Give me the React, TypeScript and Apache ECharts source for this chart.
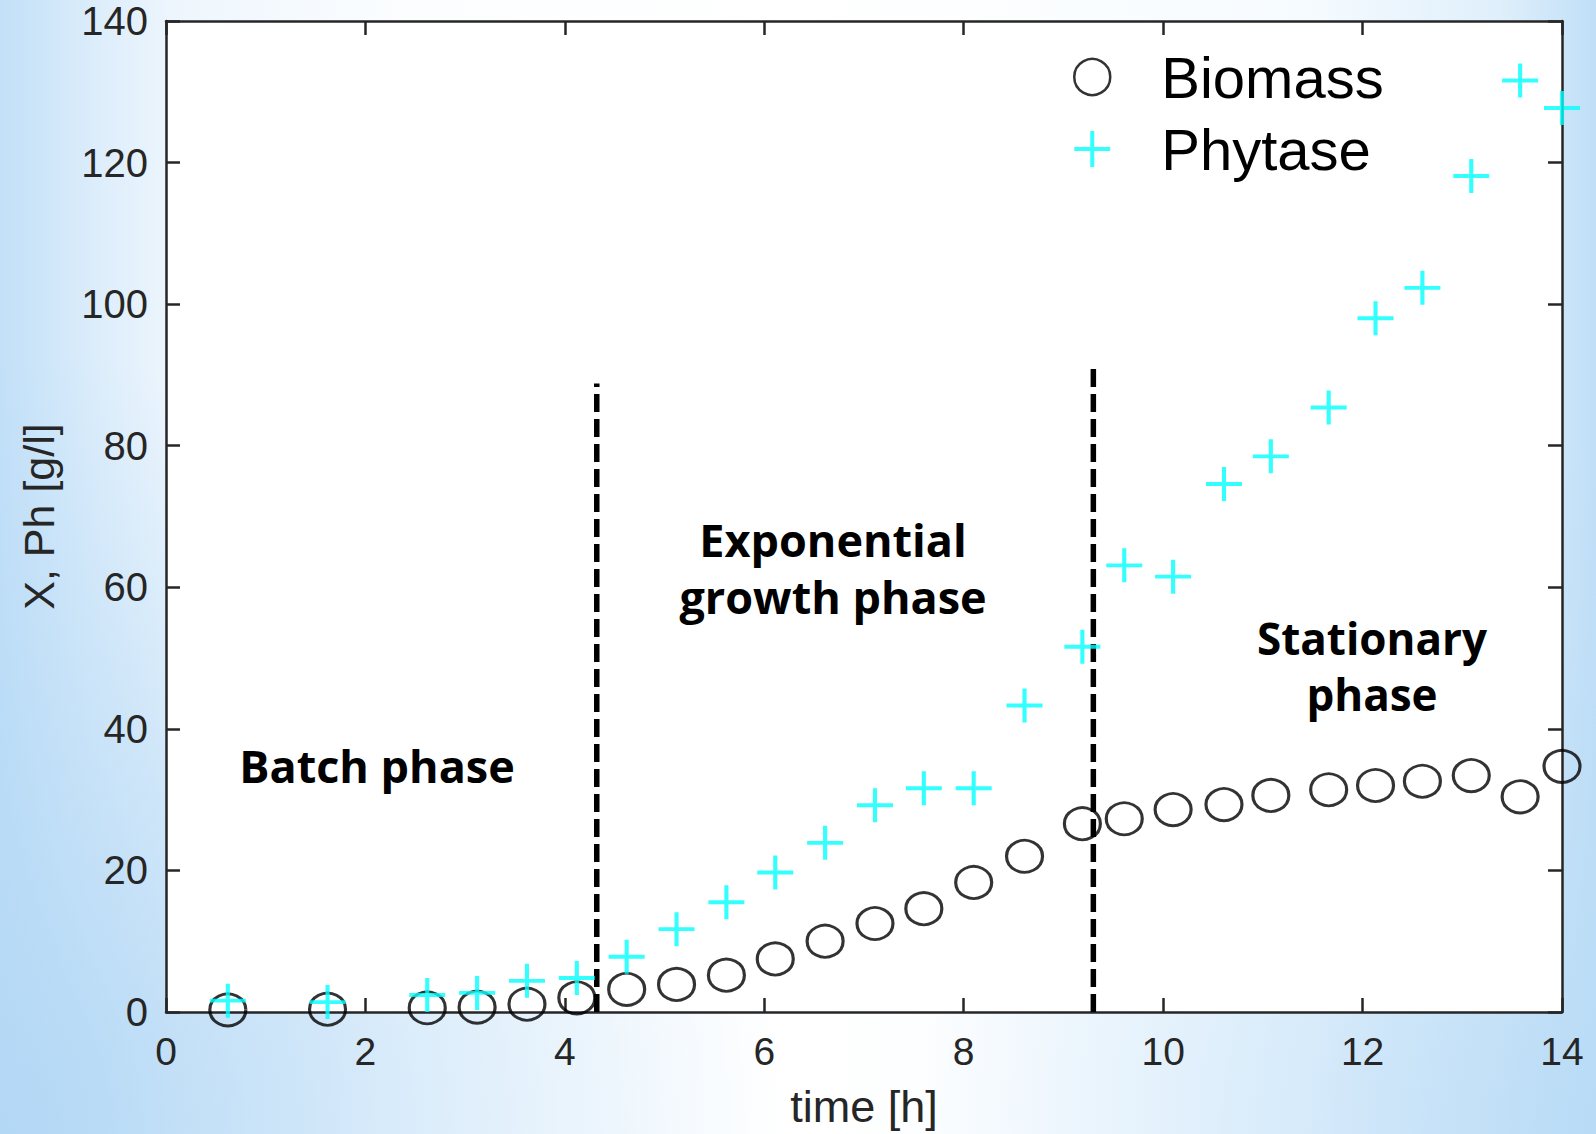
import React, { useEffect, useRef } from "react";
import * as echarts from "echarts";

const times = [0.62, 1.62, 2.62, 3.12, 3.62, 4.12, 4.62, 5.12, 5.62, 6.11, 6.61, 7.11, 7.6, 8.1, 8.61, 9.19, 9.61, 10.1, 10.61, 11.08, 11.66, 12.13, 12.6, 13.09, 13.58, 14.0];
const biomass = [0.3, 0.4, 0.6, 0.7, 1.1, 2.0, 3.2, 3.9, 5.2, 7.5, 10.0, 12.5, 14.6, 18.3, 22.0, 26.6, 27.3, 28.6, 29.3, 30.6, 31.4, 32.0, 32.6, 33.4, 30.4, 34.7];
const phytase = [1.6, 1.4, 2.4, 2.7, 4.4, 4.8, 7.8, 11.7, 15.5, 19.7, 23.9, 29.2, 31.6, 31.6, 43.3, 51.6, 63.1, 61.5, 74.6, 78.5, 85.4, 98.0, 102.3, 118.1, 131.6, 127.7];
const phaseBoundaries = [
  { x: 4.32, top: 88.8 },
  { x: 9.3, top: 91.6 },
];
const xTicks = { min: 0, max: 14, interval: 2 };
const yTicks = { min: 0, max: 140, interval: 20 };
const phaseLabels = ["Batch phase", "Exponential\ngrowth phase", "Stationary\nphase"];

const AXIS_COLOR = "#262626";
const FONT = '"Liberation Sans", Arial, sans-serif';

export default function App() {
  const ref = useRef<HTMLDivElement>(null);
  useEffect(() => {
    if (!ref.current) return;
    const chart = echarts.init(ref.current, null, { renderer: "svg" });
    const axisCommon = {
      axisLine: { show: true, onZero: false, lineStyle: { color: AXIS_COLOR, width: 2.5 } },
      axisTick: { show: true, inside: true, length: 14, lineStyle: { color: AXIS_COLOR, width: 2.5 } },
      splitLine: { show: false },
    };
    const pts = (ys: number[]) => times.map((t, i) => [t, ys[i]]);
    const phaseFont = 'bold 45px "Open Sans"';
    const option: any = {
      animation: false,
      backgroundColor: "transparent",
      grid: { left: 166, right: 34, top: 21, bottom: 121, show: true, backgroundColor: "#ffffff", borderWidth: 0 },
      xAxis: [
        {
          type: "value", position: "bottom", ...xTicks, ...axisCommon,
          axisLabel: { color: AXIS_COLOR, fontSize: 39, fontFamily: FONT, margin: 20 },
          name: "time [h]", nameLocation: "middle", nameGap: 72,
          nameTextStyle: { color: AXIS_COLOR, fontSize: 45, fontFamily: FONT },
        },
        { type: "value", position: "top", ...xTicks, ...axisCommon, axisLabel: { show: false } },
      ],
      yAxis: [
        {
          type: "value", position: "left", ...yTicks, ...axisCommon,
          axisLabel: { color: AXIS_COLOR, fontSize: 40, lineHeight: 34, fontFamily: FONT, margin: 18 },
          name: "X, Ph [g/l]", nameLocation: "middle", nameGap: 106,
          nameTextStyle: { color: AXIS_COLOR, fontSize: 43, fontFamily: FONT },
        },
        { type: "value", position: "right", ...yTicks, ...axisCommon, axisLabel: { show: false } },
      ],
      legend: {
        data: [
          { name: "Biomass", itemStyle: { color: "rgba(0,0,0,0)", borderColor: "#000", borderWidth: 2.5 } },
          {
            name: "Phytase",
            icon: "path://M0,16H36V20H0Z M16,0H20V36H16Z",
            itemStyle: { color: "#00ffff", borderWidth: 0 },
          },
        ],
        orient: "vertical",
        left: 1068,
        top: 43,
        itemWidth: 36,
        itemHeight: 36,
        itemGap: 14,
        textStyle: { color: "#000", fontSize: 58, fontFamily: FONT, lineHeight: 58, padding: [0, 0, 0, 46] },
      },
      series: [
        {
          name: "Biomass",
          type: "scatter",
          symbol: "circle",
          symbolSize: [36, 32],
          itemStyle: { color: "rgba(0,0,0,0)", borderColor: "#000", borderWidth: 3 },
          data: pts(biomass),
          z: 3,
        },
        {
          name: "Phytase",
          type: "scatter",
          symbol: "path://M0,18H36M18,0V36",
          symbolSize: [36, 34],
          itemStyle: { color: "rgba(0,0,0,0)", borderColor: "#00ffff", borderWidth: 4 },
          data: pts(phytase),
          z: 4,
        },
        ...phaseBoundaries.map((b, i) => ({
          name: "boundary" + i,
          type: "line",
          data: [[b.x, 0], [b.x, b.top]],
          symbol: "none",
          silent: true,
          lineStyle: { color: "#000", width: 5.5, type: [18, 7] },
          z: 2,
        })),
      ],
      graphic: [
        { type: "text", x: 377, y: 765, style: { text: phaseLabels[0], font: phaseFont, fill: "#000", align: "center", verticalAlign: "middle" } },
        { type: "text", x: 833, y: 568, style: { text: phaseLabels[1], font: phaseFont, lineHeight: 57, fill: "#000", align: "center", verticalAlign: "middle" } },
        { type: "text", x: 1372, y: 666, style: { text: phaseLabels[2], font: 'bold 44px "Open Sans"', lineHeight: 56, fill: "#000", align: "center", verticalAlign: "middle" } },
      ],
    };
    chart.setOption(option);
    return () => chart.dispose();
  }, []);
  return (
    <div
      style={{
        position: "fixed",
        left: 0,
        top: 0,
        width: 1596,
        height: 1134,
        background:
          "radial-gradient(circle at 0% 100%, rgba(178,215,245,0.95) 0%, rgba(178,215,245,0) 40%), " +
          "radial-gradient(circle at 100% 100%, rgba(185,219,246,0.9) 0%, rgba(185,219,246,0) 35%), " +
          "linear-gradient(90deg, #c2e0f8 0%, #dcedfb 6%, #eef6fd 11%, #fbfdff 25%, #ffffff 50%, #f6fbff 82%, #dfeffb 94%, #c0dff7 100%)",
      }}
    >
      <div ref={ref} style={{ width: 1596, height: 1134 }} />
    </div>
  );
}
